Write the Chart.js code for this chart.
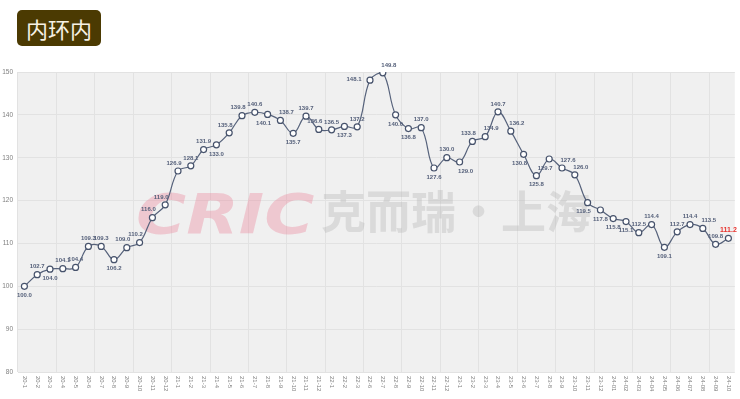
<!DOCTYPE html>
<html>
<head>
<meta charset="utf-8">
<script src="https://cdn.jsdelivr.net/npm/chart.js@4"></script>
<style>
  html, body { margin: 0; padding: 0; background: #fff; }
  #wrap { position: relative; width: 740px; height: 399px; }
  #title {
    position: absolute; left: 17px; top: 10px; width: 84px; height: 36px;
    background: #4b3a02; border-radius: 5px; color: #f6f1e4;
    font: 400 22px "Noto Sans CJK SC", sans-serif; line-height: 36px; text-align: center;
  }
</style>
</head>
<body>
<div id="wrap">
  <canvas id="priceChart" width="740" height="399"></canvas>
  <div id="title">内环内</div>
</div>
<script>
// month labels
const months = [
    '20-1','20-2','20-3','20-4','20-5','20-6','20-7','20-8','20-9','20-10','20-11','20-12',
    '21-1','21-2','21-3','21-4','21-5','21-6','21-7','21-8','21-9','21-10','21-11','21-12',
    '22-1','22-2','22-3','22-6','22-7','22-8','22-9','22-10','22-11','22-12',
    '23-1','23-2','23-3','23-4','23-5','23-6','23-7','23-8','23-9','23-10','23-11','23-12',
    '24-01','24-02','24-03','24-04','24-05','24-06','24-07','24-08','24-09','24-10'
];

// index values
const indexValues = [
    100.0, 102.7, 104.0, 104.1, 104.4, 109.3, 109.3, 106.2, 109.0, 110.2, 116.0, 119.0,
    126.9, 128.1, 131.9, 133.0, 135.8, 139.8, 140.6, 140.1, 138.7, 135.7, 139.7, 136.6,
    136.5, 137.3, 137.2, 148.1, 149.8, 140.0, 136.8, 137.0, 127.6, 130.0,
    129.0, 133.8, 134.9, 140.7, 136.2, 130.8, 125.8, 129.7, 127.6, 126.0, 119.5, 117.8,
    115.8, 115.1, 112.5, 114.4, 109.1, 112.7, 114.4, 113.5, 109.8, 111.2
];

// where each value label sits: a = above, b = below, l/r = nudged left/right
const labelPos = [
    'b','a','b','a','a','a','a','b','al','al','al','al',
    'al','a','a','b','al','al','a','bl','ar','b','a','al',
    'a','b','a','l','ar','b','b','a','b','a',
    'br','al','ar','a','ar','bl','b','bl','ar','ar','bl','b',
    'b','b','a','a','b','a','a','ar','a','a'
];

const yTicks = [80, 90, 100, 110, 120, 130, 140, 150];

// grey plot area + watermark
const backdrop = {
    id: 'backdrop',
    beforeDraw(chart) {
        const a = chart.chartArea;
        const ctx = chart.ctx;
        ctx.save();
        ctx.fillStyle = '#f0f0f0';
        ctx.fillRect(a.left, a.top, a.right - a.left, a.bottom - a.top);
        ctx.restore();
    },
    beforeDatasetsDraw(chart) {
        const ctx = chart.ctx;
        ctx.save();
        ctx.textBaseline = 'alphabetic';
        ctx.textAlign = 'left';
        ctx.fillStyle = 'rgba(236,140,160,0.4)';
        ctx.font = 'italic bold 56px "DejaVu Sans", sans-serif';
        ctx.translate(136, 233);
        ctx.scale(1.22, 1);
        ctx.fillText('CRIC', 0, 0);
        ctx.restore();
        ctx.save();
        ctx.textBaseline = 'middle';
        ctx.fillStyle = 'rgba(185,185,185,0.4)';
        ctx.font = 'bold 45px "Noto Sans CJK SC", sans-serif';
        ctx.fillText('克而瑞·上海', 321, 212);
        ctx.restore();
    }
};

// rotated month labels and point value labels
const labelsPlugin = {
    id: 'labelsPlugin',
    afterDatasetsDraw(chart) {
        const ctx = chart.ctx;
        const xs = chart.scales.x;
        const meta = chart.getDatasetMeta(0);
        ctx.save();
        ctx.font = '6px "Liberation Sans", sans-serif';
        ctx.fillStyle = '#808080';
        ctx.textAlign = 'left';
        ctx.textBaseline = 'middle';
        for (var i = 0; i < months.length; i++) {
            ctx.save();
            ctx.translate(xs.getPixelForTick(i), chart.chartArea.bottom + 4);
            ctx.rotate(Math.PI / 2);
            ctx.fillText(months[i], 0, 0);
            ctx.restore();
        }
        ctx.font = 'bold 6px "Liberation Sans", sans-serif';
        ctx.textAlign = 'center';
        for (var j = 0; j < meta.data.length; j++) {
            const pt = meta.data[j];
            const pos = labelPos[j];
            const last = j === meta.data.length - 1;
            ctx.fillStyle = last ? '#e8322d' : '#55607a';
            if (last) ctx.font = 'bold 7px "Liberation Sans", sans-serif';
            let dy = pos[0] === 'a' ? -8 : 9;
            let dx = 0;
            if (pos === 'l') { dx = -16; dy = -1; }
            else if (pos[1] === 'l') dx = -4;
            else if (pos[1] === 'r') dx = 6;
            ctx.fillText(indexValues[j].toFixed(1), pt.x + dx, pt.y + dy);
        }
        ctx.restore();
    }
};

const ctx = document.getElementById('priceChart');
new Chart(ctx, {
    type: 'line',
    data: {
        labels: months,
        datasets: [{
            data: indexValues,
            borderColor: '#56627b',
            borderWidth: 1.2,
            tension: 0.4,
            pointRadius: 3,
            pointBackgroundColor: '#ffffff',
            pointBorderColor: '#46526b',
            pointBorderWidth: 1.2
        }]
    },
    options: {
        responsive: false,
        animation: false,
        layout: { padding: { top: 72, right: 5, left: 0, bottom: 0 } },
        plugins: { legend: { display: false }, tooltip: { enabled: false } },
        scales: {
            x: {
                offset: true,
                grid: {
                    offset: true,
                    drawTicks: false,
                    color: (c) => (c.index % 3 === 0 ? '#e2e2e2' : 'rgba(0,0,0,0)')
                },
                border: { display: false },
                ticks: { display: false },
                afterFit: (scale) => { scale.height = 27; }
            },
            y: {
                min: 80,
                max: 150,
                afterBuildTicks: (scale) => { scale.ticks = yTicks.map(v => ({ value: v })); },
                grid: { color: '#e2e2e2', drawTicks: false },
                border: { display: false },
                ticks: {
                    padding: 5,
                    color: '#808080',
                    font: { size: 6.5, family: '"Liberation Sans", sans-serif' }
                },
                afterFit: (scale) => { scale.width = 18; }
            }
        }
    },
    plugins: [backdrop, labelsPlugin]
});
</script>
</body>
</html>
